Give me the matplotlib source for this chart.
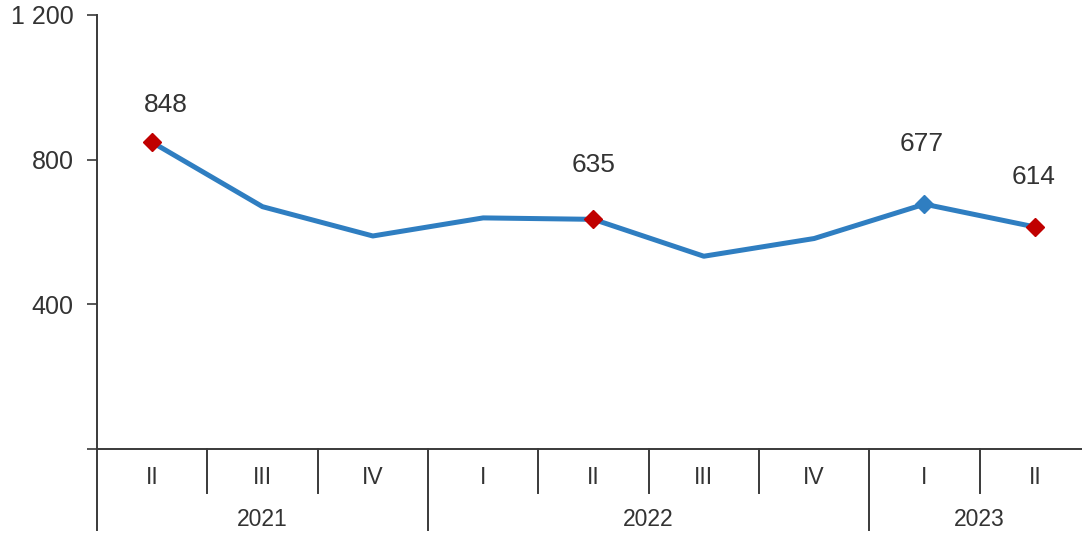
import matplotlib
matplotlib.use("Agg")
import matplotlib.pyplot as plt
from matplotlib.lines import Line2D

quarters = ["II", "III", "IV", "I", "II", "III", "IV", "I", "II"]
years = ["2021", "2022", "2023"]
year_counts = [3, 4, 2]
values = [848, 670, 589, 639, 635, 533, 582, 677, 614]
labeled = [0, 4, 7, 8]
red_points = [0, 4, 8]
y_ticks = [0, 400, 800, 1200]

plt.rcParams['font.family'] = ['Liberation Sans', 'DejaVu Sans']
W, H = 1082, 540
fig = plt.figure(figsize=(W / 100, H / 100), dpi=100)
left, right, bottom_px, top_px = 97, 1090, 449, 15
ax = fig.add_axes([left / W, (H - bottom_px) / H, (right - left) / W, (bottom_px - top_px) / H])

line_color = "#2F7EC1"
red = "#C00000"
axis_color = "#3a3a3a"
text_color = "#333333"

x = [i + 0.5 for i in range(len(values))]
ax.plot(x, values, color=line_color, lw=3.6, solid_joinstyle='round', zorder=2)
for i in labeled:
    c = red if i in red_points else line_color
    ax.plot(x[i], values[i], marker='D', ms=9, color=c, mec=c, zorder=3)

offsets = {0: (10, 27), 4: (0, 39), 7: (-2, 43), 8: (-1, 36)}
for i in labeled:
    dx, dy = offsets[i]
    ax.annotate(f"{values[i]}", (x[i], values[i]), xytext=(dx, dy), textcoords='offset points',
                ha='center', va='center', fontsize=19, color=text_color)

ax.set_xlim(0, len(values))
ax.set_ylim(0, 1200)
ax.set_yticks(y_ticks)
ax.set_yticklabels(["" if v == 0 else f"{v:,}".replace(",", " ") for v in y_ticks],
                   fontsize=18, color=text_color)
ax.tick_params(axis='y', length=7, width=1.2, color=axis_color, pad=10)
ax.set_xticks([])
for s in ['top', 'right']:
    ax.spines[s].set_visible(False)
ax.spines['left'].set_visible(False)
ax.spines['bottom'].set_color(axis_color)
ax.spines['bottom'].set_linewidth(1.4)

trans = ax.get_xaxis_transform()
px = 1.0 / (bottom_px - top_px)
ax.add_line(Line2D([0, 0], [1, -81 * px], transform=trans, color=axis_color, lw=1.4, clip_on=False))

for i, q in enumerate(quarters):
    ax.text(x[i], -29 * px, q, transform=trans, ha='center', va='center', fontsize=16.5, color=text_color)

pos = 0
for yname, n in zip(years, year_counts):
    ax.text(pos + n / 2, -71 * px, yname, transform=trans, ha='center', va='center', fontsize=16.5, color=text_color)
    for k in range(1, n):
        ax.add_line(Line2D([pos + k, pos + k], [0, -44 * px], transform=trans, color=axis_color, lw=1.4, clip_on=False))
    pos += n
    ax.add_line(Line2D([pos, pos], [0, -81 * px], transform=trans, color=axis_color, lw=1.4, clip_on=False))

fig.savefig("out.png", dpi=100)
